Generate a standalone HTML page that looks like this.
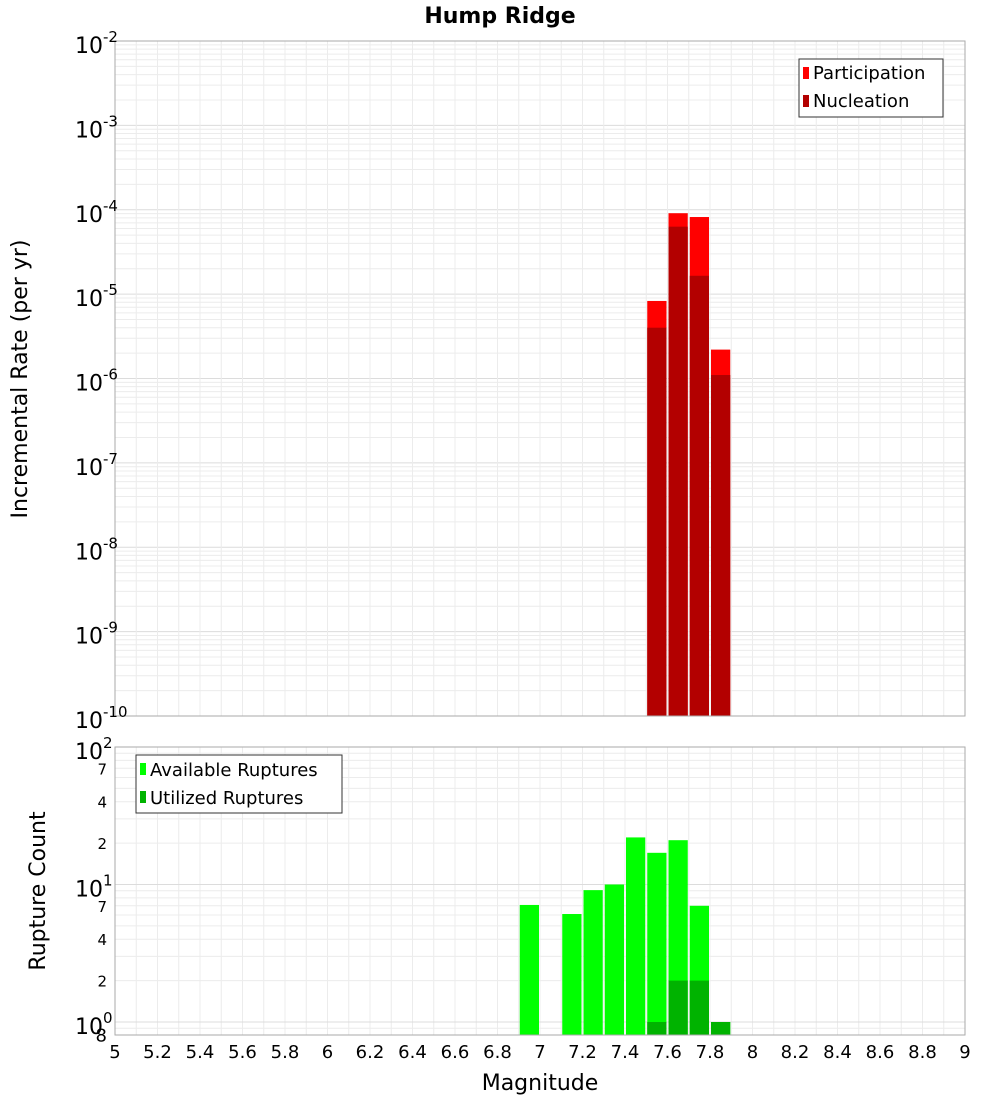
<!DOCTYPE html>
<html><head><meta charset="utf-8"><style>
body{margin:0;background:#fff;font-family:"Liberation Sans","DejaVu Sans",sans-serif}
svg text{font-family:"DejaVu Sans","Liberation Sans",sans-serif}
</style></head><body>
<svg id="c" width="1000" height="1100" xmlns="http://www.w3.org/2000/svg"></svg>
<script>
const binCenters=[7.55,7.65,7.75,7.85];
const participation=[8.3e-6,9.1e-5,8.2e-5,2.2e-6];
const nucleation=[4.0e-6,6.3e-5,1.65e-5,1.1e-6];
const countBins=[6.95,7.15,7.25,7.35,7.45,7.55,7.65,7.75,7.85];
const available=[7.1,6.1,9.1,10,22,17,21,7,1];
const utilizedBins=[7.55,7.65,7.75,7.85];
const utilized=[1,2,2,1];
const xTicks=[5,5.2,5.4,5.6,5.8,6,6.2,6.4,6.6,6.8,7,7.2,7.4,7.6,7.8,8,8.2,8.4,8.6,8.8,9];
const topExps=[-10,-9,-8,-7,-6,-5,-4,-3,-2];
const botMinor=[2,4,7];

const NS="http://www.w3.org/2000/svg";
const svg=document.getElementById('c');
function el(t,a,p){const e=document.createElementNS(NS,t);for(const k in a)e.setAttribute(k,a[k]);(p||svg).appendChild(e);return e;}
const X0=115,X1=965;
const x=m=>X0+(m-5)/(9-5)*(X1-X0);
const TY0=41,TY1=716;
const yTop=v=>TY0+(-2-Math.log10(v))*(TY1-TY0)/8;
const BY0=747,BY1=1035,BD=137.5;
const yBot=v=>BY0+(2-Math.log10(v))*BD;

// title
let t=el('text',{x:500,y:23,'text-anchor':'middle','font-size':22,'font-weight':'bold'});t.textContent='Hump Ridge';


// top panel
let g=el('g',{});
for(let e=-10;e<-2;e++)for(let k=1;k<10;k++){const yy=yTop(k*Math.pow(10,e));el('line',{x1:X0,x2:X1,y1:yy,y2:yy,stroke:k==1?'#dcdcdc':'#ececec','stroke-width':1},g);}
for(let m=5;m<=9.001;m+=0.1){const xx=x(m);el('line',{x1:xx,x2:xx,y1:TY0,y2:TY1,stroke:'#ececec'},g);el('line',{x1:xx,x2:xx,y1:BY0,y2:BY1,stroke:'#ececec'},g);}
for(let e=-1;e<2;e++)for(let k=1;k<10;k++){const yy=yBot(k*Math.pow(10,e));if(yy<BY0-0.5||yy>BY1)continue;el('line',{x1:X0,x2:X1,y1:yy,y2:yy,stroke:k==1?'#dcdcdc':'#ececec'},g);}

binCenters.forEach((c,i)=>{
 let r=el('rect',{x:x(c-0.05)+1,y:yTop(participation[i]),width:x(c+0.05)-x(c-0.05)-2,height:TY1-yTop(participation[i]),fill:'#ff0000'});
 
 let n=el('rect',{x:x(c-0.05)+1,y:yTop(nucleation[i]),width:x(c+0.05)-x(c-0.05)-2,height:TY1-yTop(nucleation[i]),fill:'#b30000'});
 
});
el('rect',{x:X0,y:TY0,width:X1-X0,height:TY1-TY0,fill:'none',stroke:'#aaa'});
topExps.forEach(e=>{const yy=yTop(Math.pow(10,e));
 let tt=el('text',{x:103,y:yy+12,'text-anchor':'end','font-size':22});tt.textContent='10';
 
 let s=el('text',{x:103,y:yy+1,'font-size':15});s.textContent=String(e);
});
let yt=el('text',{transform:'translate(27,379) rotate(-90)','text-anchor':'middle','font-size':22});yt.textContent='Incremental Rate (per yr)';

// legend top
let lg=el('g',{});
el('rect',{x:799,y:59,width:144,height:58,fill:'#fff',stroke:'#333'},lg);
el('rect',{x:803,y:67,width:6,height:12,fill:'#ff0000'},lg);
el('rect',{x:803,y:95,width:6,height:12,fill:'#b30000'},lg);
let l1=el('text',{x:813,y:79,'font-size':18},lg);l1.textContent='Participation';
let l2=el('text',{x:813,y:107,'font-size':18},lg);l2.textContent='Nucleation';

// bottom panel
countBins.forEach((c,i)=>{let r=el('rect',{x:x(c-0.05)+1,y:yBot(available[i]),width:x(c+0.05)-x(c-0.05)-2,height:BY1-yBot(available[i]),fill:'#00ff00'});
 });
utilizedBins.forEach((c,i)=>{let r=el('rect',{x:x(c-0.05)+1,y:yBot(utilized[i]),width:x(c+0.05)-x(c-0.05)-2,height:BY1-yBot(utilized[i]),fill:'#00b300'});
 });
el('rect',{x:X0,y:BY0,width:X1-X0,height:BY1-BY0,fill:'none',stroke:'#aaa'});
[0,1,2].forEach(e=>{const yy=yBot(Math.pow(10,e));
 let tt=el('text',{x:103,y:yy+12,'text-anchor':'end','font-size':22});tt.textContent='10';
 
 let s=el('text',{x:103,y:yy+1,'font-size':15});s.textContent=String(e);
});
[0,1].forEach(e=>botMinor.forEach(k=>{const yy=yBot(k*Math.pow(10,e));let s=el('text',{x:107,y:yy+6,'text-anchor':'end','font-size':15});s.textContent=String(k);}));
let e8=el('text',{x:107,y:yBot(0.8)+6,'text-anchor':'end','font-size':18});e8.textContent='8';
let bt=el('text',{transform:'translate(45,891) rotate(-90)','text-anchor':'middle','font-size':22});bt.textContent='Rupture Count';

let lb=el('g',{});
el('rect',{x:136,y:755,width:206,height:58,fill:'#fff',stroke:'#333'},lb);
el('rect',{x:140,y:763,width:6,height:12,fill:'#00ff00'},lb);
el('rect',{x:140,y:791,width:6,height:12,fill:'#00b300'},lb);
let b1=el('text',{x:150,y:776,'font-size':18},lb);b1.textContent='Available Ruptures';
let b2=el('text',{x:150,y:804,'font-size':18},lb);b2.textContent='Utilized Ruptures';

xTicks.forEach(m=>{let s=el('text',{x:x(m),y:1058,'text-anchor':'middle','font-size':18});s.textContent=String(m);
 });
let xt=el('text',{x:540,y:1090,'text-anchor':'middle','font-size':22});xt.textContent='Magnitude';

</script>
</body></html>
